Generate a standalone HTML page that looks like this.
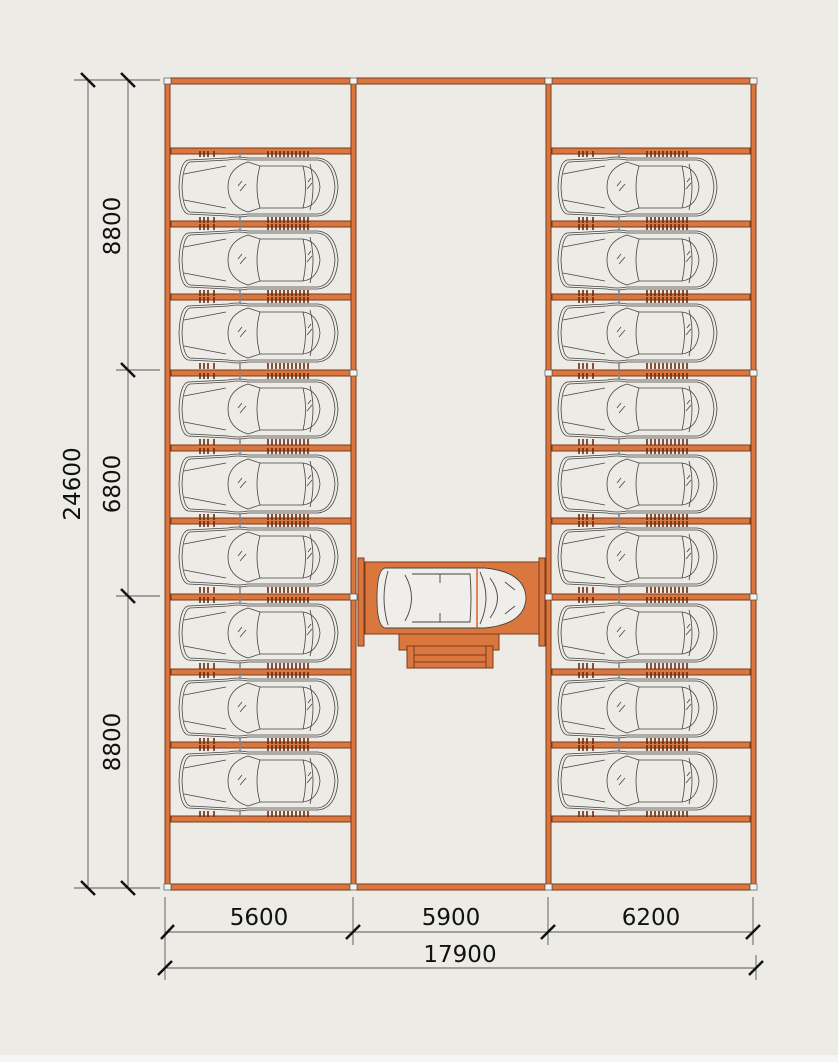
<!DOCTYPE html>
<html><head><meta charset="utf-8"><style>
html,body{margin:0;padding:0;background:#edebe6;}
svg{display:block}
text{font-family:"DejaVu Sans","Liberation Sans",sans-serif;font-size:21px;fill:#111}
</style></head><body>
<svg width="838" height="1062" viewBox="0 0 838 1062" xmlns="http://www.w3.org/2000/svg">
<defs>
<g id="car" fill="none" stroke="#444" stroke-width="0.8">
 <path d="M10,4 Q2,6 1,31 Q2,56 10,58 L50,60 Q60,62 70,60 L140,60 Q158,58 160,31 Q158,4 140,2 L70,2 Q60,0 50,2 Z"/>
 <path d="M12,6 Q5,8 4,31 Q5,54 12,56 L50,58 Q60,60 70,58 L140,58 Q155,56 157,31 Q155,6 140,4 L70,4 Q60,2 50,4 Z"/>
 <path d="M6,18 L48,10 M6,44 L48,52"/>
 <path d="M70,6 Q50,12 50,31 Q50,50 70,56 L82,52 Q76,31 82,10 Z"/>
 <path d="M82,10 L125,10 Q140,12 142,31 Q140,50 125,52 L82,52"/>
 <path d="M125,10 Q130,31 125,52 M132,8 Q138,31 132,54"/>
 <path d="M60,30 L64,25 M62,35 L68,28 M130,26 L133,22 M129,33 L134,27"/>
 <g stroke="#6a2c10" stroke-width="1.6">
  <path d="M22,-5 v6 M26,-5 v6 M30,-5 v6 M36,-5 v6 M90,-5 v6 M94,-5 v6 M98,-5 v6 M102,-5 v6 M106,-5 v6 M110,-5 v6 M114,-5 v6 M118,-5 v6 M122,-5 v6 M126,-5 v6 M130,-5 v6"/>
  <path d="M22,61 v6 M26,61 v6 M30,61 v6 M36,61 v6 M90,61 v6 M94,61 v6 M98,61 v6 M102,61 v6 M106,61 v6 M110,61 v6 M114,61 v6 M118,61 v6 M122,61 v6 M126,61 v6 M130,61 v6"/>
  <path d="M62,-6 v8 M62,60 v8" stroke="#888"/>
 </g>
</g>
</defs>
<rect x="0" y="1055" width="838" height="7" fill="#f6f5f2"/>
<g fill="#d9773f" stroke="#7a3a18" stroke-width="1">
 <rect x="165" y="80" width="5" height="808"/>
 <rect x="351" y="80" width="5" height="808"/>
 <rect x="546" y="80" width="5" height="808"/>
 <rect x="751" y="80" width="5" height="808"/>
 <rect x="171" y="78" width="180" height="6"/>
 <rect x="357" y="78" width="188" height="6"/>
 <rect x="552" y="78" width="198" height="6"/>
 <rect x="171" y="884" width="180" height="6"/>
 <rect x="357" y="884" width="188" height="6"/>
 <rect x="552" y="884" width="198" height="6"/>
 <rect x="171" y="148" width="180" height="6"/><rect x="171" y="221" width="180" height="6"/>
 <rect x="171" y="294" width="180" height="6"/><rect x="171" y="370" width="180" height="6"/>
 <rect x="171" y="445" width="180" height="6"/><rect x="171" y="518" width="180" height="6"/>
 <rect x="171" y="594" width="180" height="6"/><rect x="171" y="669" width="180" height="6"/>
 <rect x="171" y="742" width="180" height="6"/><rect x="171" y="816" width="180" height="6"/>
 <rect x="552" y="148" width="198" height="6"/><rect x="552" y="221" width="198" height="6"/>
 <rect x="552" y="294" width="198" height="6"/><rect x="552" y="370" width="198" height="6"/>
 <rect x="552" y="445" width="198" height="6"/><rect x="552" y="518" width="198" height="6"/>
 <rect x="552" y="594" width="198" height="6"/><rect x="552" y="669" width="198" height="6"/>
 <rect x="552" y="742" width="198" height="6"/><rect x="552" y="816" width="198" height="6"/>
</g>
<g fill="#f2f2f0" stroke="#555" stroke-width="0.7">
 <rect x="164" y="78" width="7" height="6"/><rect x="350" y="78" width="7" height="6"/><rect x="545" y="78" width="7" height="6"/><rect x="750" y="78" width="7" height="6"/>
 <rect x="164" y="884" width="7" height="6"/><rect x="350" y="884" width="7" height="6"/><rect x="545" y="884" width="7" height="6"/><rect x="750" y="884" width="7" height="6"/>
 <rect x="350" y="370" width="7" height="6"/><rect x="545" y="370" width="7" height="6"/><rect x="750" y="370" width="7" height="6"/>
 <rect x="350" y="594" width="7" height="6"/><rect x="545" y="594" width="7" height="6"/><rect x="750" y="594" width="7" height="6"/>
</g>
<g>
 <use href="#car" x="178" y="156"/><use href="#car" x="178" y="229"/><use href="#car" x="178" y="302"/>
 <use href="#car" x="178" y="378"/><use href="#car" x="178" y="453"/><use href="#car" x="178" y="526"/>
 <use href="#car" x="178" y="602"/><use href="#car" x="178" y="677"/><use href="#car" x="178" y="750"/>
 <use href="#car" x="557" y="156"/><use href="#car" x="557" y="229"/><use href="#car" x="557" y="302"/>
 <use href="#car" x="557" y="378"/><use href="#car" x="557" y="453"/><use href="#car" x="557" y="526"/>
 <use href="#car" x="557" y="602"/><use href="#car" x="557" y="677"/><use href="#car" x="557" y="750"/>
</g>
<g fill="#d9773f" stroke="#7a3a18" stroke-width="1">
 <rect x="399" y="634" width="100" height="16"/>
 <rect x="407" y="646" width="86" height="22"/>
 <line x1="407" y1="655" x2="493" y2="655"/><line x1="407" y1="662" x2="493" y2="662"/>
 <rect x="407" y="646" width="7" height="22"/><rect x="486" y="646" width="7" height="22"/>
 <rect x="365" y="562" width="176" height="72"/>
 <rect x="358" y="558" width="6" height="88"/>
 <rect x="539" y="558" width="6" height="88"/>
</g>
<g fill="#efeeea" stroke="#444" stroke-width="0.9">
 <path d="M385,568 L485,568 Q525,572 526,598 Q525,624 485,628 L385,628 Q377,626 377,598 Q377,570 385,568 Z"/>
 <path fill="none" d="M388,571 Q380,598 388,625 M405,575 Q418,598 405,621 M412,574 L470,574 Q472,598 470,622 L412,622 M440,574 L440,583 M440,622 L440,613 M480,572 Q492,598 480,624 M490,578 Q505,598 490,618 M505,582 L515,590 M505,614 L515,606"/>
 <line x1="477" y1="568" x2="477" y2="628" stroke="#d9602a" stroke-width="1.5"/>
</g>
<g stroke="#555" stroke-width="0.9" fill="none">
 <line x1="88" y1="80" x2="88" y2="888"/>
 <line x1="128" y1="80" x2="128" y2="888"/>
 <line x1="74" y1="80" x2="160" y2="80"/>
 <line x1="74" y1="888" x2="160" y2="888"/>
 <line x1="116" y1="370" x2="160" y2="370"/>
 <line x1="116" y1="596" x2="160" y2="596"/>
 <line x1="165" y1="897" x2="165" y2="980"/>
 <line x1="353" y1="897" x2="353" y2="945"/>
 <line x1="548" y1="897" x2="548" y2="945"/>
 <line x1="753" y1="897" x2="753" y2="945"/>
 <line x1="756" y1="955" x2="756" y2="980"/>
 <line x1="165" y1="932" x2="753" y2="932"/>
 <line x1="165" y1="968" x2="756" y2="968"/>
</g>
<g stroke="#111" stroke-width="2.5">
 <line x1="81" y1="73" x2="95" y2="87"/><line x1="121" y1="73" x2="135" y2="87"/>
 <line x1="121" y1="363" x2="135" y2="377"/><line x1="121" y1="589" x2="135" y2="603"/>
 <line x1="81" y1="881" x2="95" y2="895"/><line x1="121" y1="881" x2="135" y2="895"/>
 <line x1="161" y1="939" x2="174" y2="925"/><line x1="346" y1="939" x2="360" y2="925"/>
 <line x1="541" y1="939" x2="555" y2="925"/><line x1="746" y1="939" x2="760" y2="925"/>
 <line x1="158" y1="975" x2="172" y2="961"/><line x1="749" y1="975" x2="763" y2="961"/>
</g>
<g style="font-size:23px">
<text x="259" y="925" text-anchor="middle" style="font-size:23px">5600</text>
<text x="451" y="925" text-anchor="middle" style="font-size:23px">5900</text>
<text x="651" y="925" text-anchor="middle" style="font-size:23px">6200</text>
<text x="460" y="962" text-anchor="middle" style="font-size:23px">17900</text>
<text transform="translate(80,484) rotate(-90)" text-anchor="middle" style="font-size:23px">24600</text>
<text transform="translate(120,226) rotate(-90)" text-anchor="middle" style="font-size:23px">8800</text>
<text transform="translate(120,484) rotate(-90)" text-anchor="middle" style="font-size:23px">6800</text>
<text transform="translate(120,742) rotate(-90)" text-anchor="middle" style="font-size:23px">8800</text>
</g>
</svg>
</body></html>
